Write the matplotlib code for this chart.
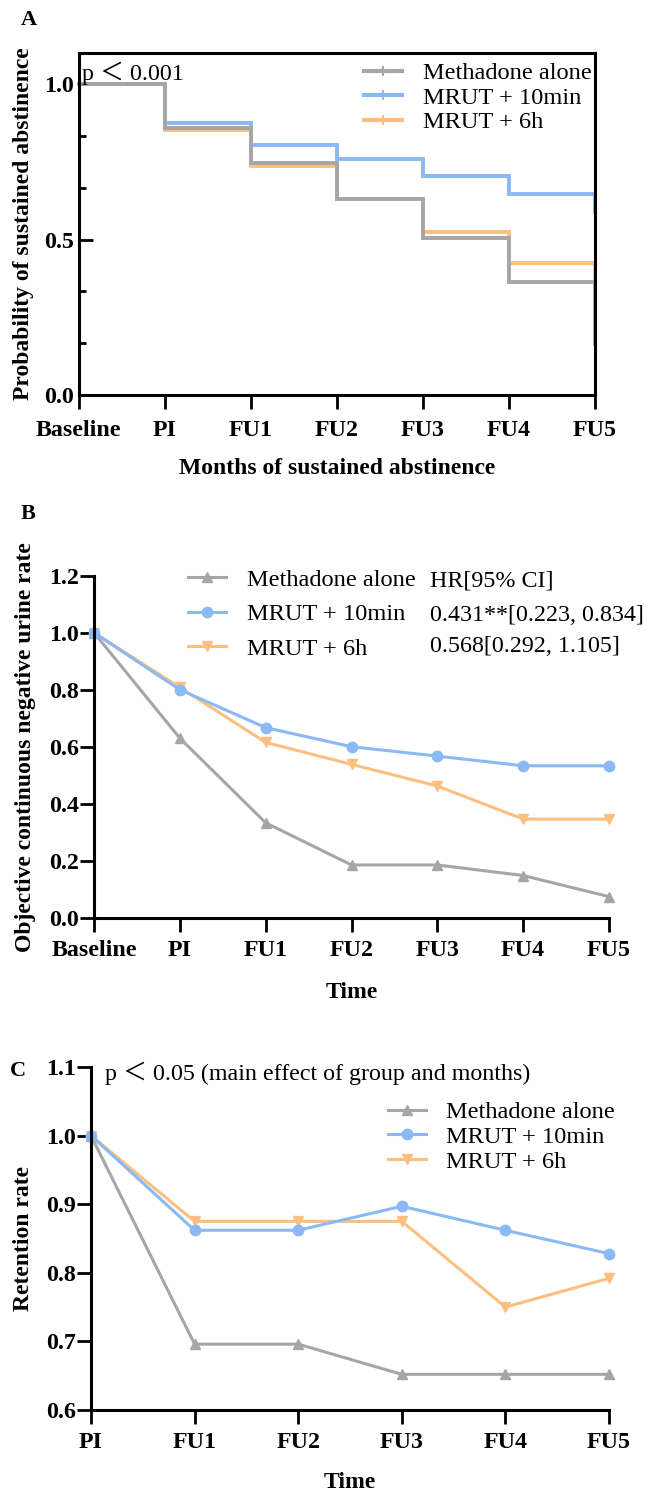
import matplotlib
matplotlib.use("Agg")
import matplotlib.pyplot as plt
from matplotlib.ticker import MultipleLocator
from matplotlib.lines import Line2D

plt.rcParams['font.family'] = ['Liberation Serif', 'Noto Sans CJK SC']

groups = ['Methadone alone', 'MRUT + 10min', 'MRUT + 6h']
colors = ['#a6a6a6', '#8ab9f4', '#fdbf80']

# A: Kaplan-Meier style sustained abstinence
km_labels = ['Baseline', 'PI', 'FU1', 'FU2', 'FU3', 'FU4', 'FU5']
km_methadone = [1.0, 0.86, 0.745, 0.63, 0.505, 0.365, 0.165]
km_mrut10 = [1.0, 0.875, 0.805, 0.76, 0.705, 0.645, 0.59]
km_mrut6h = [1.0, 0.853, 0.735, 0.632, 0.525, 0.425, 0.37]

# B: objective continuous negative urine rate
urine_labels = ['Baseline', 'PI', 'FU1', 'FU2', 'FU3', 'FU4', 'FU5']
urine_methadone = [1.0, 0.63, 0.333, 0.185, 0.185, 0.148, 0.074]
urine_mrut10 = [1.0, 0.8, 0.667, 0.6, 0.567, 0.533, 0.533]
urine_mrut6h = [1.0, 0.808, 0.615, 0.538, 0.462, 0.346, 0.346]
hr_text = ['HR[95% CI]', '0.431**[0.223, 0.834]', '0.568[0.292, 1.105]']

# C: retention rate
ret_labels = ['PI', 'FU1', 'FU2', 'FU3', 'FU4', 'FU5']
ret_methadone = [1.0, 0.696, 0.696, 0.652, 0.652, 0.652]
ret_mrut10 = [1.0, 0.862, 0.862, 0.897, 0.862, 0.828]
ret_mrut6h = [1.0, 0.875, 0.875, 0.875, 0.75, 0.792]

FS_TICK = 17.3
FS_LAB = 17
FS_LEG = 17.6
FS_TXT = 17.3
W, H = 647, 1494

fig = plt.figure(figsize=(W / 100, H / 100), dpi=100)


def px_axes(left, right, top, bottom):
    return fig.add_axes([left / W, 1 - bottom / H, (right - left) / W, (bottom - top) / H])


def style_ticks(ax, labels):
    ax.set_xticks(range(len(labels)))
    ax.set_xticklabels(labels)
    for t in ax.get_xticklabels() + ax.get_yticklabels():
        t.set_fontweight('bold')
        t.set_fontsize(FS_TICK)


# ---------------- A ----------------
axA = px_axes(78.5, 595, 53, 395)
x = list(range(len(km_labels)))
series = [km_methadone, km_mrut10, km_mrut6h]
for i in [2, 1, 0]:
    axA.step(x, series[i], where='post', color=colors[i], lw=2.8, clip_on=False,
             solid_joinstyle='miter')
axA.set_xlim(0, 6)
axA.set_ylim(0, 1.1)
axA.set_yticks([0, 0.5, 1.0])
axA.set_yticklabels(['0.0', '0.5', '1.0'])
axA.yaxis.set_minor_locator(MultipleLocator(1 / 6))
style_ticks(axA, km_labels)
for s in axA.spines.values():
    s.set_linewidth(2.2)
axA.tick_params(axis='y', which='major', direction='in', length=10, width=2, pad=3)
axA.tick_params(axis='y', which='minor', direction='in', length=5, width=2)
axA.tick_params(axis='x', direction='out', length=10, width=2, pad=8)
axA.set_xlabel('Months of sustained abstinence', fontsize=FS_LAB, fontweight='bold')
axA.xaxis.set_label_coords(0.5, -0.184)
axA.set_ylabel('Probability of sustained abstinence', fontsize=FS_LAB, fontweight='bold')
axA.yaxis.set_label_coords(-0.086, 0.5)
hA = [Line2D([0], [0], color=c, lw=3, marker='|', markersize=7, markeredgewidth=1.5) for c in colors]
axA.legend(hA, groups, loc='upper left', bbox_to_anchor=(0.553, 0.973), frameon=False,
           fontsize=FS_LEG, borderpad=0, handlelength=1.55, handletextpad=0.85, labelspacing=0.1,
           borderaxespad=0)
axA.text(0.007, 0.921, 'p ＜ 0.001', transform=axA.transAxes, fontsize=FS_TXT, va='baseline')

# ---------------- B ----------------
axB = px_axes(94, 609, 575.7, 917.7)
markers = ['^', 'o', 'v']
series = [urine_methadone, urine_mrut10, urine_mrut6h]
x = list(range(len(urine_labels)))
for i in [0, 2, 1]:
    axB.plot(x, series[i], color=colors[i], lw=2.2, marker=markers[i], markersize=7.5,
             clip_on=False, label=groups[i])
axB.set_xlim(0, 6)
axB.set_ylim(0, 1.2)
axB.set_yticks([0, 0.2, 0.4, 0.6, 0.8, 1.0, 1.2])
axB.set_yticklabels(['0.0', '0.2', '0.4', '0.6', '0.8', '1.0', '1.2'])
style_ticks(axB, urine_labels)
axB.spines['top'].set_visible(False)
axB.spines['right'].set_visible(False)
for s in ['left', 'bottom']:
    axB.spines[s].set_linewidth(2.2)
axB.tick_params(axis='both', direction='out', length=10, width=2)
axB.tick_params(axis='y', pad=1)
axB.tick_params(axis='x', pad=6)
axB.set_xlabel('Time', fontsize=FS_LAB, fontweight='bold')
axB.xaxis.set_label_coords(0.5, -0.188)
axB.set_ylabel('Objective continuous negative urine rate', fontsize=FS_LAB, fontweight='bold')
axB.yaxis.set_label_coords(-0.113, 0.5)
hB = [Line2D([0], [0], color=colors[i], lw=2.2, marker=markers[i], markersize=7.5) for i in range(3)]
axB.legend(hB, groups, loc='upper left', bbox_to_anchor=(0.1825, 1.02), frameon=False,
           fontsize=FS_LEG, borderpad=0, handlelength=1.55, handletextpad=0.85, labelspacing=0.5,
           borderaxespad=0)
for txt, yy in zip(hr_text, [0.985, 0.885, 0.792]):
    axB.text(0.652, yy, txt, transform=axB.transAxes, fontsize=FS_LEG - 0.3, va='center')

# ---------------- C ----------------
axC = px_axes(91, 609, 1067, 1410)
series = [ret_methadone, ret_mrut10, ret_mrut6h]
x = list(range(len(ret_labels)))
for i in [0, 2, 1]:
    axC.plot(x, series[i], color=colors[i], lw=2.2, marker=markers[i], markersize=7.5,
             clip_on=False)
axC.set_xlim(0, 5)
axC.set_ylim(0.6, 1.1)
axC.set_yticks([0.6, 0.7, 0.8, 0.9, 1.0, 1.1])
axC.set_yticklabels(['0.6', '0.7', '0.8', '0.9', '1.0', '1.1'])
style_ticks(axC, ret_labels)
axC.spines['top'].set_visible(False)
axC.spines['right'].set_visible(False)
for s in ['left', 'bottom']:
    axC.spines[s].set_linewidth(2.2)
axC.tick_params(axis='both', direction='out', length=10, width=2)
axC.tick_params(axis='y', pad=1)
axC.tick_params(axis='x', pad=6)
axC.set_xlabel('Time', fontsize=FS_LAB, fontweight='bold')
axC.xaxis.set_label_coords(0.5, -0.181)
axC.set_ylabel('Retention rate', fontsize=FS_LAB, fontweight='bold')
axC.yaxis.set_label_coords(-0.111, 0.5)
hC = [Line2D([0], [0], color=colors[i], lw=2.2, marker=markers[i], markersize=7.5) for i in range(3)]
axC.legend(hC, groups, loc='upper left', bbox_to_anchor=(0.573, 0.9), frameon=False,
           fontsize=FS_LEG, borderpad=0, handlelength=1.55, handletextpad=0.85, labelspacing=0.1,
           borderaxespad=0)
axC.text(0.027, 0.962, 'p ＜ 0.05 (main effect of group and months)', transform=axC.transAxes,
         fontsize=FS_TXT, va='baseline')

# panel letters
fig.text(28.5 / W, 1 - 20 / H, 'A', fontsize=16, fontweight='bold', ha='center', va='center')
fig.text(28 / W, 1 - 514 / H, 'B', fontsize=16, fontweight='bold', ha='center', va='center')
fig.text(17.5 / W, 1 - 1071 / H, 'C', fontsize=16, fontweight='bold', ha='center', va='center')

fig.savefig('out.png', dpi=100)
